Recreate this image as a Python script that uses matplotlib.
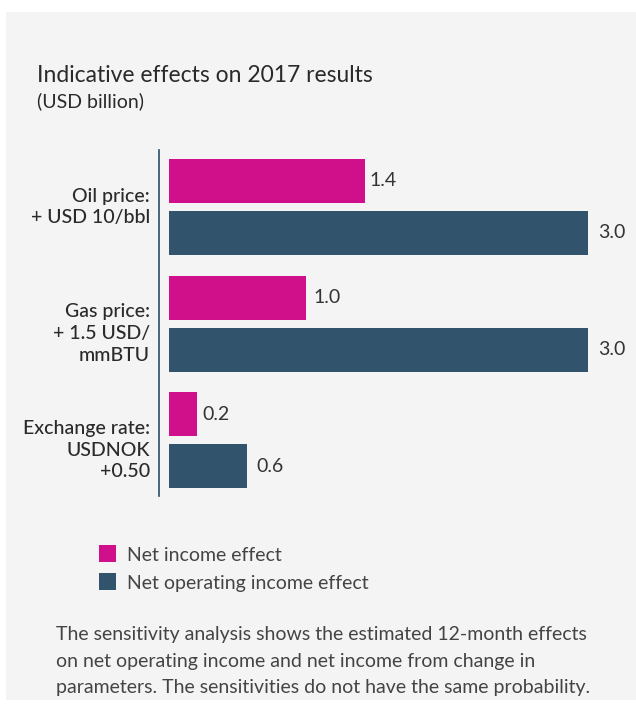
import matplotlib
matplotlib.use("Agg")
import matplotlib.pyplot as plt

plt.rcParams['font.family'] = ['Lato', 'DejaVu Sans']

categories = ["Oil price:\n+ USD 10/bbl", "Gas price:\n+ 1.5 USD/\nmmBTU", "Exchange rate:\nUSDNOK\n+0.50"]
net_income = [1.4, 0.98, 0.2]
net_operating = [3.0, 3.0, 0.56]
series_names = ["Net income effect", "Net operating income effect"]
title = "Indicative effects on 2017 results"
subtitle = "(USD billion)"
footnote_lines = ["The sensitivity analysis shows the estimated 12-month effects",
                  "on net operating income and net income from change in",
                  "parameters. The sensitivities do not have the same probability."]

PINK = "#d0108a"
DARK = "#31536b"
TXT = "#333333"
W, H = 636, 711
FS = 14

fig = plt.figure(figsize=(W / 100, H / 100), dpi=100)
fig.patch.set_facecolor("white")


def fx(px):
    return px / W


def fy(py):
    return 1 - py / H


bg = fig.add_axes([fx(6), fy(700), 1 - fx(6), (700 - 12) / H], zorder=-5)
bg.set_facecolor("#f4f4f4")
bg.set_xticks([])
bg.set_yticks([])
for s in bg.spines.values():
    s.set_visible(False)

# axes in pixel layout
ax_l, ax_r, ax_t, ax_b = 159, 620, 150, 496
ax = fig.add_axes([fx(ax_l), fy(ax_b), fx(ax_r - ax_l), (ax_b - ax_t) / H], zorder=1)
ax.set_facecolor("none")

unit_x = 139.7
unit_y = 116.5
x0 = -(169 - 159) / unit_x
ax.set_xlim(x0, x0 + (ax_r - ax_l) / unit_x)
ax.set_ylim(2 + (496 - 440) / unit_y, -(207 - 150) / unit_y)

bh = 44 / unit_y
off = 26 / unit_y
ys = list(range(len(categories)))
ax.barh([y - off for y in ys], net_income, height=bh, color=PINK, zorder=2)
ax.barh([y + off for y in ys], net_operating, height=bh, color=DARK, zorder=2)

gap_ni = [5, 8, 5]
gap_no = [10, 10, 9]
for y, v, g in zip(ys, net_income, gap_ni):
    ax.text(v + g / unit_x, y - off, f"{v:.1f}", va="center", ha="left", fontsize=FS, color=TXT)
for y, v, g in zip(ys, net_operating, gap_no):
    ax.text(v + g / unit_x, y + off, f"{v:.1f}", va="center", ha="left", fontsize=FS, color=TXT, clip_on=False)

ax.set_yticks([])
ax.set_xticks([])
for s in ["top", "right", "bottom"]:
    ax.spines[s].set_visible(False)
ax.spines["left"].set_color("#2d4e66")
ax.spines["left"].set_linewidth(1.2)

label_dy = [0, 10, 10]
for y, c, d in zip(ys, categories, label_dy):
    ax.text(x0 - 9 / unit_x, y + d / unit_y, c, ha="right", va="center", fontsize=FS,
            color="#2a2a2a", linespacing=1.35, fontweight="medium", clip_on=False)

fig.text(fx(37), fy(82), title, fontsize=16.5, color="#2a2a2a", va="baseline")
fig.text(fx(37), fy(107), subtitle, fontsize=14, color="#2a2a2a", va="baseline")

# legend
for i, (name, col) in enumerate(zip(series_names, [PINK, DARK])):
    top = 545 + i * 28
    fig.add_artist(plt.Rectangle((fx(99), fy(top + 17)), 17 / W, 17 / H,
                                 transform=fig.transFigure, facecolor=col, edgecolor="none"))
    fig.text(fx(127), fy(top + 16), name, fontsize=FS, color="#444444", va="baseline")

for i, line in enumerate(footnote_lines):
    fig.text(fx(56), fy(640 + i * 26.5), line, fontsize=FS, color="#444444", va="baseline", ha="left")

fig.savefig("out.png", dpi=100, facecolor="white")
